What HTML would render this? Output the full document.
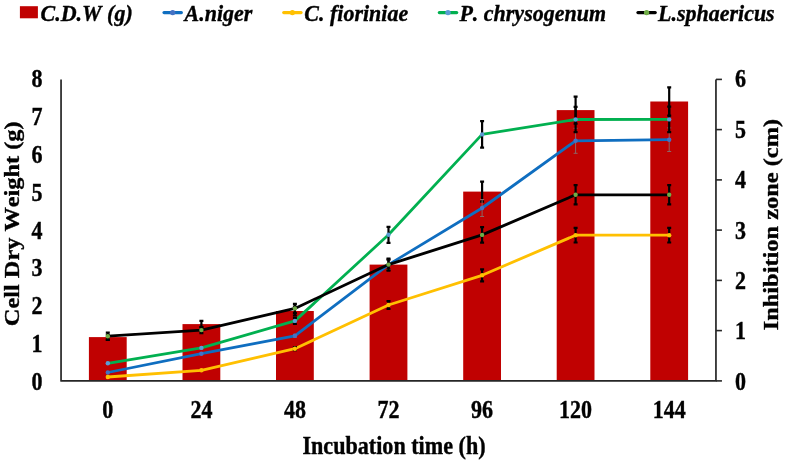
<!DOCTYPE html>
<html><head><meta charset="utf-8"><title>chart</title>
<style>
html,body{margin:0;padding:0;background:#fff;}
body{width:786px;height:463px;overflow:hidden;font-family:"Liberation Serif",serif;}
svg{display:block;}
text{stroke:#000;stroke-width:0.35px;font-kerning:none;font-family:"Liberation Serif",serif;font-weight:bold;fill:#000;}
.lg{font-style:italic;font-size:22px;}
.tk{font-size:22px;}
.ti{font-size:22px;}
.ti2{font-size:22.15px;}
</style></head><body>
<svg width="786" height="463" viewBox="0 0 786 463">
<rect width="786" height="463" fill="#fff"/>
<g style="opacity:0.999">
<rect x="88.9" y="337.1" width="37.8" height="43.8" fill="#c00000"/>
<rect x="182.5" y="324.1" width="37.8" height="56.8" fill="#c00000"/>
<rect x="276.0" y="311.0" width="37.8" height="69.9" fill="#c00000"/>
<rect x="369.6" y="264.6" width="37.8" height="116.3" fill="#c00000"/>
<rect x="463.2" y="191.6" width="37.8" height="189.3" fill="#c00000"/>
<rect x="556.7" y="110.1" width="37.8" height="270.8" fill="#c00000"/>
<rect x="650.3" y="101.5" width="37.8" height="279.4" fill="#c00000"/>
<path d="M107.8 334.6V339.6M105.8 334.6H109.8M105.8 339.6H109.8" stroke="#000" stroke-width="2.2" fill="none"/>
<path d="M201.4 320.9V327.3M199.4 320.9H203.4M199.4 327.3H203.4" stroke="#000" stroke-width="2.2" fill="none"/>
<path d="M294.9 306.5V315.5M292.9 306.5H296.9M292.9 315.5H296.9" stroke="#000" stroke-width="2.2" fill="none"/>
<path d="M388.5 259.6V269.6M386.5 259.6H390.5M386.5 269.6H390.5" stroke="#000" stroke-width="2.2" fill="none"/>
<path d="M482.1 181.6V201.6M480.1 181.6H484.1M480.1 201.6H484.1" stroke="#000" stroke-width="2.2" fill="none"/>
<path d="M575.6 96.6V123.6M573.6 96.6H577.6M573.6 123.6H577.6" stroke="#000" stroke-width="2.2" fill="none"/>
<path d="M669.2 87.3V115.7M667.2 87.3H671.2M667.2 115.7H671.2" stroke="#000" stroke-width="2.2" fill="none"/>
<polyline points="107.8,372.5 201.4,353.7 294.9,335.8 388.5,264.6 482.1,208.0 575.6,140.8 669.2,139.7" fill="none" stroke="#0f6ec0" stroke-width="2.8" stroke-linejoin="round" stroke-linecap="round"/>


<path d="M294.9 334.3V337.3M292.9 334.3H296.9M292.9 337.3H296.9" stroke="#8d6666" stroke-width="1.0" fill="none"/>
<path d="M388.5 259.6V269.6M386.5 259.6H390.5M386.5 269.6H390.5" stroke="#8d6666" stroke-width="1.0" fill="none"/>
<path d="M482.1 199.5V216.5M480.1 199.5H484.1M480.1 216.5H484.1" stroke="#8d6666" stroke-width="1.0" fill="none"/>
<path d="M575.6 128.3V153.3M573.6 128.3H577.6M573.6 153.3H577.6" stroke="#8d6666" stroke-width="1.0" fill="none"/>
<path d="M669.2 127.9V151.5M667.2 127.9H671.2M667.2 151.5H671.2" stroke="#8d6666" stroke-width="1.0" fill="none"/>
<circle cx="107.8" cy="372.5" r="2.2" fill="#4472c4"/>
<circle cx="201.4" cy="353.7" r="2.2" fill="#4472c4"/>
<circle cx="294.9" cy="335.8" r="2.2" fill="#4472c4"/>
<circle cx="388.5" cy="264.6" r="2.2" fill="#4472c4"/>
<circle cx="482.1" cy="208.0" r="2.2" fill="#4472c4"/>
<circle cx="575.6" cy="140.8" r="2.2" fill="#4472c4"/>
<circle cx="669.2" cy="139.7" r="2.2" fill="#4472c4"/>
<polyline points="107.8,377.0 201.4,370.3 294.9,348.7 388.5,305.0 482.1,275.3 575.6,235.2 669.2,235.2" fill="none" stroke="#ffc000" stroke-width="2.8" stroke-linejoin="round" stroke-linecap="round"/>


<path d="M294.9 347.2V350.2M292.9 347.2H296.9M292.9 350.2H296.9" stroke="#000" stroke-width="2.2" fill="none"/>
<path d="M388.5 301.0V309.0M386.5 301.0H390.5M386.5 309.0H390.5" stroke="#000" stroke-width="2.2" fill="none"/>
<path d="M482.1 269.3V281.3M480.1 269.3H484.1M480.1 281.3H484.1" stroke="#000" stroke-width="2.2" fill="none"/>
<path d="M575.6 227.9V242.5M573.6 227.9H577.6M573.6 242.5H577.6" stroke="#000" stroke-width="2.2" fill="none"/>
<path d="M669.2 227.9V242.5M667.2 227.9H671.2M667.2 242.5H671.2" stroke="#000" stroke-width="2.2" fill="none"/>
<circle cx="107.8" cy="377.0" r="2.2" fill="#ffc000"/>
<circle cx="201.4" cy="370.3" r="2.2" fill="#ffc000"/>
<circle cx="294.9" cy="348.7" r="2.2" fill="#ffc000"/>
<circle cx="388.5" cy="305.0" r="2.2" fill="#ffc000"/>
<circle cx="482.1" cy="275.3" r="2.2" fill="#ffc000"/>
<circle cx="575.6" cy="235.2" r="2.2" fill="#ffc000"/>
<circle cx="669.2" cy="235.2" r="2.2" fill="#ffc000"/>
<polyline points="107.8,363.3 201.4,347.9 294.9,320.9 388.5,234.8 482.1,134.4 575.6,119.5 669.2,119.4" fill="none" stroke="#00b050" stroke-width="2.8" stroke-linejoin="round" stroke-linecap="round"/>


<path d="M294.9 317.9V323.9M292.9 317.9H296.9M292.9 323.9H296.9" stroke="#000" stroke-width="2.2" fill="none"/>
<path d="M388.5 226.8V242.8M386.5 226.8H390.5M386.5 242.8H390.5" stroke="#000" stroke-width="2.2" fill="none"/>
<path d="M482.1 121.1V147.7M480.1 121.1H484.1M480.1 147.7H484.1" stroke="#000" stroke-width="2.2" fill="none"/>
<path d="M575.6 106.9V132.1M573.6 106.9H577.6M573.6 132.1H577.6" stroke="#000" stroke-width="2.2" fill="none"/>
<path d="M669.2 106.7V132.1M667.2 106.7H671.2M667.2 132.1H671.2" stroke="#000" stroke-width="2.2" fill="none"/>
<circle cx="107.8" cy="363.3" r="2.2" fill="#5b9bd5"/>
<circle cx="201.4" cy="347.9" r="2.2" fill="#5b9bd5"/>
<circle cx="294.9" cy="320.9" r="2.2" fill="#5b9bd5"/>
<circle cx="388.5" cy="234.8" r="2.2" fill="#5b9bd5"/>
<circle cx="482.1" cy="134.4" r="2.2" fill="#5b9bd5"/>
<circle cx="575.6" cy="119.5" r="2.2" fill="#5b9bd5"/>
<circle cx="669.2" cy="119.4" r="2.2" fill="#5b9bd5"/>
<polyline points="107.8,336.2 201.4,330.1 294.9,308.4 388.5,264.6 482.1,234.9 575.6,194.8 669.2,194.8" fill="none" stroke="#000000" stroke-width="2.8" stroke-linejoin="round" stroke-linecap="round"/>
<path d="M107.8 332.5V339.9M105.8 332.5H109.8M105.8 339.9H109.8" stroke="#000" stroke-width="2.2" fill="none"/>
<path d="M201.4 327.1V333.1M199.4 327.1H203.4M199.4 333.1H203.4" stroke="#000" stroke-width="2.2" fill="none"/>
<path d="M294.9 303.8V313.0M292.9 303.8H296.9M292.9 313.0H296.9" stroke="#000" stroke-width="2.2" fill="none"/>
<path d="M388.5 258.6V270.6M386.5 258.6H390.5M386.5 270.6H390.5" stroke="#000" stroke-width="2.2" fill="none"/>
<path d="M482.1 227.2V242.6M480.1 227.2H484.1M480.1 242.6H484.1" stroke="#000" stroke-width="2.2" fill="none"/>
<path d="M575.6 185.2V204.4M573.6 185.2H577.6M573.6 204.4H577.6" stroke="#000" stroke-width="2.2" fill="none"/>
<path d="M669.2 185.2V204.4M667.2 185.2H671.2M667.2 204.4H671.2" stroke="#000" stroke-width="2.2" fill="none"/>
<circle cx="107.8" cy="336.2" r="2.2" fill="#70ad47"/>
<circle cx="201.4" cy="330.1" r="2.2" fill="#70ad47"/>
<circle cx="294.9" cy="308.4" r="2.2" fill="#70ad47"/>
<circle cx="388.5" cy="264.6" r="2.2" fill="#70ad47"/>
<circle cx="482.1" cy="234.9" r="2.2" fill="#70ad47"/>
<circle cx="575.6" cy="194.8" r="2.2" fill="#70ad47"/>
<circle cx="669.2" cy="194.8" r="2.2" fill="#70ad47"/>
<path d="M61.05 79.4V380.9H715.95V79.4" fill="none" stroke="#262626" stroke-width="1.7" stroke-linejoin="round"/>
<path d="M715.95 380.9H721.95" stroke="#262626" stroke-width="1.6"/>
<text class="tk" transform="translate(735 389.7) scale(1 1.115)" text-anchor="start">0</text>
<path d="M715.95 330.6H721.95" stroke="#262626" stroke-width="1.6"/>
<text class="tk" transform="translate(735 339.3) scale(1 1.115)" text-anchor="start">1</text>
<path d="M715.95 280.4H721.95" stroke="#262626" stroke-width="1.6"/>
<text class="tk" transform="translate(735 288.9) scale(1 1.115)" text-anchor="start">2</text>
<path d="M715.95 230.1H721.95" stroke="#262626" stroke-width="1.6"/>
<text class="tk" transform="translate(735 238.5) scale(1 1.115)" text-anchor="start">3</text>
<path d="M715.95 179.9H721.95" stroke="#262626" stroke-width="1.6"/>
<text class="tk" transform="translate(735 188.2) scale(1 1.115)" text-anchor="start">4</text>
<path d="M715.95 129.6H721.95" stroke="#262626" stroke-width="1.6"/>
<text class="tk" transform="translate(735 137.8) scale(1 1.115)" text-anchor="start">5</text>
<path d="M715.95 79.4H721.95" stroke="#262626" stroke-width="1.6"/>
<text class="tk" transform="translate(735 87.4) scale(1 1.115)" text-anchor="start">6</text>
<text class="tk" transform="translate(42.5 389.7) scale(1 1.115)" text-anchor="end">0</text>
<text class="tk" transform="translate(42.5 351.9) scale(1 1.115)" text-anchor="end">1</text>
<text class="tk" transform="translate(42.5 314.1) scale(1 1.115)" text-anchor="end">2</text>
<text class="tk" transform="translate(42.5 276.3) scale(1 1.115)" text-anchor="end">3</text>
<text class="tk" transform="translate(42.5 238.5) scale(1 1.115)" text-anchor="end">4</text>
<text class="tk" transform="translate(42.5 200.8) scale(1 1.115)" text-anchor="end">5</text>
<text class="tk" transform="translate(42.5 163.0) scale(1 1.115)" text-anchor="end">6</text>
<text class="tk" transform="translate(42.5 125.2) scale(1 1.115)" text-anchor="end">7</text>
<text class="tk" transform="translate(42.5 87.4) scale(1 1.115)" text-anchor="end">8</text>
<text class="tk" transform="translate(107.8 417.6) scale(1 1.115)" text-anchor="middle">0</text>
<text class="tk" transform="translate(201.4 417.6) scale(1 1.115)" text-anchor="middle">24</text>
<text class="tk" transform="translate(294.9 417.6) scale(1 1.115)" text-anchor="middle">48</text>
<text class="tk" transform="translate(388.5 417.6) scale(1 1.115)" text-anchor="middle">72</text>
<text class="tk" transform="translate(482.1 417.6) scale(1 1.115)" text-anchor="middle">96</text>
<text class="tk" transform="translate(575.6 417.6) scale(1 1.115)" text-anchor="middle">120</text>
<text class="tk" transform="translate(669.2 417.6) scale(1 1.115)" text-anchor="middle">144</text>
<text class="ti2" transform="translate(394.0 454.0) scale(1 1.115)" text-anchor="middle">Incubation time (h)</text>
<text class="ti" transform="translate(18.8 223.8) rotate(-90) scale(1.106 1)" text-anchor="middle">Cell Dry Weight (g)</text>
<text class="ti" transform="translate(777.5 224.6) rotate(-90) scale(1.109 1)" text-anchor="middle">Inhibition zone (cm)</text>
<rect x="19.9" y="6.2" width="18" height="12.1" fill="#c00000"/>
<text class="lg" transform="translate(40.5 20.5) scale(1 1.075)" text-anchor="start">C.D.W (g)</text>
<path d="M164.0 12.6H181.4" stroke="#0f6ec0" stroke-width="3.1" stroke-linecap="round"/>
<circle cx="172.7" cy="12.6" r="2.7" fill="#4472c4"/>
<text class="lg" transform="translate(184.5 20.5) scale(1 1.075)" text-anchor="start">A.niger</text>
<path d="M283.7 12.6H301.1" stroke="#ffc000" stroke-width="3.1" stroke-linecap="round"/>
<circle cx="292.4" cy="12.6" r="2.7" fill="#ffc000"/>
<text class="lg" transform="translate(304.3 20.5) scale(1 1.075)" text-anchor="start">C. fioriniae</text>
<path d="M439.3 12.6H456.7" stroke="#00b050" stroke-width="3.1" stroke-linecap="round"/>
<circle cx="448.0" cy="12.6" r="2.7" fill="#5b9bd5"/>
<text class="lg" transform="translate(459.4 20.5) scale(1 1.075)" text-anchor="start">P. chrysogenum</text>
<path d="M637.9 12.6H655.3" stroke="#000000" stroke-width="3.1" stroke-linecap="round"/>
<circle cx="646.6" cy="12.6" r="2.7" fill="#70ad47"/>
<text class="lg" transform="translate(658.0 20.5) scale(1 1.075)" text-anchor="start">L.sphaericus</text>
</g></svg></body></html>
